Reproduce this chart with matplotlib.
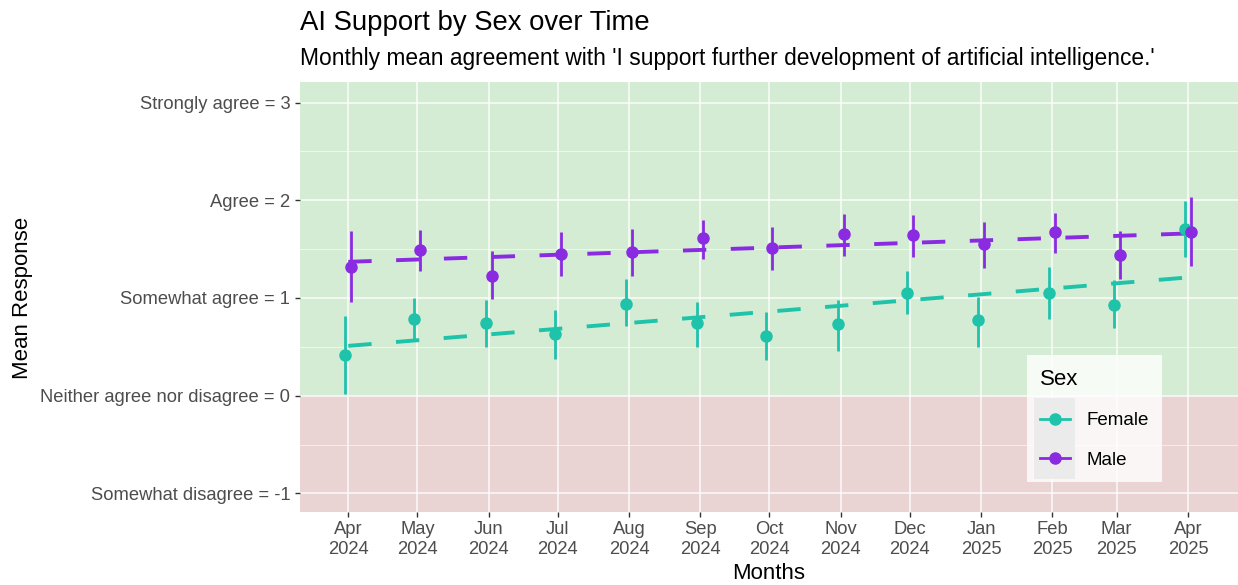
import matplotlib.pyplot as plt
import matplotlib.dates as mdates
from matplotlib.lines import Line2D
from matplotlib.patches import Rectangle
from matplotlib.legend_handler import HandlerLine2D
import numpy as np
import pandas as pd

plt.rcParams['font.family'] = ['Liberation Sans', 'DejaVu Sans']

months = pd.date_range("2024-04-01", "2025-04-01", freq="MS")

female_mean = [0.42, 0.78, 0.74, 0.63, 0.94, 0.74, 0.61, 0.73, 1.05, 0.77, 1.05, 0.93, 1.71]
female_lo = [0.02, 0.58, 0.50, 0.38, 0.71, 0.50, 0.37, 0.46, 0.84, 0.50, 0.79, 0.69, 1.42]
female_hi = [0.82, 1.00, 0.98, 0.88, 1.19, 0.96, 0.86, 0.98, 1.28, 1.01, 1.32, 1.18, 1.99]
male_mean = [1.32, 1.49, 1.23, 1.45, 1.47, 1.61, 1.51, 1.65, 1.64, 1.55, 1.67, 1.44, 1.68]
male_lo = [0.96, 1.28, 0.99, 1.23, 1.23, 1.40, 1.29, 1.43, 1.42, 1.31, 1.46, 1.19, 1.33]
male_hi = [1.69, 1.70, 1.48, 1.68, 1.71, 1.80, 1.73, 1.86, 1.85, 1.78, 1.87, 1.69, 2.03]
# linear trend end points (first and last month)
female_trend = [0.51, 1.21]
male_trend = [1.37, 1.66]

y_ticks = [-1, 0, 1, 2, 3]
y_labels = ["Somewhat disagree = -1", "Neither agree nor disagree = 0",
            "Somewhat agree = 1", "Agree = 2", "Strongly agree = 3"]

female_col = "#1fc3aa"
male_col = "#8a2be2"


class KeyHandler(HandlerLine2D):
    """Line + point legend key drawn on a grey ggplot-style key background."""
    def create_artists(self, legend, orig_handle, xdescent, ydescent,
                       width, height, fontsize, trans):
        arts = super().create_artists(legend, orig_handle, xdescent, ydescent,
                                      width, height, fontsize, trans)
        extra = legend.labelspacing * fontsize + 4
        bg = Rectangle((-xdescent - 4, -ydescent - extra / 2), width + 8,
                       height + extra, facecolor="#ebebeb", edgecolor="none",
                       transform=trans)
        return [bg] + arts


fig = plt.figure(figsize=(12.38, 5.85), dpi=100)
ax = fig.add_axes([300 / 1238, 1 - 512 / 585, 938 / 1238, 430 / 585])

x = mdates.date2num(months)
dodge = 1.3

ax.axhspan(0, 10, color="#d5ecd4", zorder=0)
ax.axhspan(-10, 0, color="#ead3d3", zorder=0)

series = [
    (female_mean, female_lo, female_hi, female_trend, female_col, -dodge),
    (male_mean, male_lo, male_hi, male_trend, male_col, dodge),
]
for mean, lo, hi, trend, col, dx in series:
    mean = np.array(mean)
    ax.vlines(x + dx, lo, hi, color=col, lw=2, zorder=3)
    ax.plot(x + dx, mean, "o", color=col, ms=8, zorder=4)
    ax.plot([x[0], x[-1]], trend, color=col, lw=2.8, dashes=(6, 6.3), zorder=3)

ax.set_xlim(x[0] - 21, x[-1] + 50 * 365 / 840)
ax.set_ylim(-1.19, 3.21)
ax.set_xticks(x)
ax.set_xticklabels([d.strftime("%b\n%Y") for d in months])
ax.set_yticks(y_ticks)
ax.set_yticklabels(y_labels)
ax.set_yticks([-0.5, 0.5, 1.5, 2.5], minor=True)
ax.grid(True, which="major", color="white", lw=1.2, alpha=0.8)
ax.grid(True, which="minor", axis="y", color="white", lw=0.6, alpha=0.7)
ax.set_axisbelow(True)
for s in ax.spines.values():
    s.set_visible(False)
ax.tick_params(axis="both", which="major", labelsize=13.2, labelcolor="#4d4d4d",
               color="#333333", length=3.5, width=1)
ax.tick_params(axis="x", which="major", pad=3)
ax.tick_params(axis="y", which="minor", length=0)

ax.set_xlabel("Months", fontsize=16, va="center")
ax.xaxis.set_label_coords(0.5, -0.142)
ax.set_ylabel("Mean Response", fontsize=16, va="center")
ax.yaxis.set_label_coords(-0.296, 0.498)

fig.text(300 / 1238, 1 - 23 / 585, "AI Support by Sex over Time", fontsize=19.8, va="center")
fig.text(300 / 1238, 1 - 58 / 585,
         "Monthly mean agreement with 'I support further development of artificial intelligence.'",
         fontsize=16.4, va="center")

handles = [Line2D([0], [0], color=female_col, lw=2, marker="o", ms=8),
           Line2D([0], [0], color=male_col, lw=2, marker="o", ms=8)]
leg = ax.legend(handles, ["Female", "Male"], title="Sex", loc="lower right",
                bbox_to_anchor=(0.919, 0.07), borderaxespad=0, frameon=True,
                fontsize=13.5, title_fontsize=16, handlelength=1.6,
                borderpad=0.7, labelspacing=1.2, handletextpad=0.9,
                fancybox=False, handler_map={Line2D: KeyHandler()})
leg.get_frame().set_facecolor("white")
leg.get_frame().set_alpha(0.8)
leg.get_frame().set_edgecolor("none")
leg._legend_box.align = "left"

fig.savefig("out.png", dpi=100)
